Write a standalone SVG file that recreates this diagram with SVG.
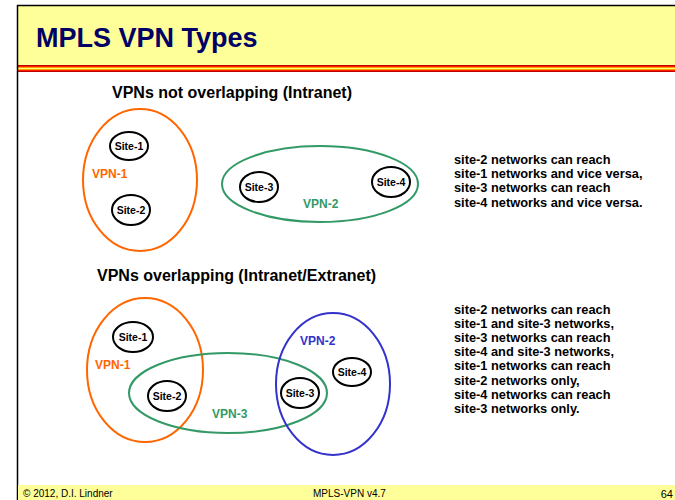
<svg xmlns="http://www.w3.org/2000/svg" width="675" height="500" viewBox="0 0 675 500">
<defs>
<linearGradient id="stripe" x1="0" y1="0" x2="0" y2="1">
<stop offset="0" stop-color="#990000"/>
<stop offset="0.18" stop-color="#FF0000"/>
<stop offset="0.35" stop-color="#FF9900"/>
<stop offset="0.5" stop-color="#FFFF66"/>
<stop offset="0.65" stop-color="#FF9900"/>
<stop offset="0.82" stop-color="#FF0000"/>
<stop offset="1" stop-color="#990000"/>
</linearGradient>
</defs>
<style>
text{font-family:"Liberation Sans",Arial,Helvetica,sans-serif;}
.title{font-size:27px;font-weight:bold;fill:#000066;}
.head{font-size:16px;font-weight:bold;fill:#000000;}
.site circle,.site ellipse{fill:#ffffff;stroke:#000000;stroke-width:2;}
.site text{font-size:10.5px;font-weight:bold;fill:#000000;text-anchor:middle;}
.vpn ellipse{fill:none;stroke-width:2;}
.vpnlabel{font-size:12px;font-weight:bold;}
.orange ellipse{stroke:#FF6600;} .orange text{fill:#FF6600;}
.green ellipse{stroke:#339966;} .green text{fill:#339966;}
.blue ellipse{stroke:#3333CC;} .blue text{fill:#3333CC;}
.desc{font-size:12.8px;font-weight:bold;fill:#000000;}
.foot{font-size:10px;fill:#000000;}
</style>
<rect x="0" y="0" width="675" height="500" fill="#ffffff"/>
<!-- header -->
<rect x="18" y="6" width="657" height="59" fill="#FFFF99"/>
<rect x="18" y="65" width="657" height="7" fill="url(#stripe)"/>
<line x1="17" y1="5.5" x2="675" y2="5.5" stroke="#000000" stroke-width="1.5"/>
<line x1="17.5" y1="5" x2="17.5" y2="500" stroke="#000000" stroke-width="1.5"/>
<text class="title" x="36" y="47">MPLS VPN Types</text>
<!-- footer -->
<rect x="18" y="485" width="657" height="15" fill="#FFFF99"/>
<text class="foot" x="23" y="497">© 2012, D.I. Lindner</text>
<text class="foot" x="313" y="497">MPLS-VPN v4.7</text>
<text class="foot" x="673" y="498" text-anchor="end" style="font-size:11px">64</text>

<text class="head" x="112" y="98">VPNs not overlapping (Intranet)</text>
<text class="head" x="97" y="281">VPNs overlapping (Intranet/Extranet)</text>

<g id="connectors"></g>

<!-- top section -->
<g id="top-vpn1" class="vpn orange">
<ellipse cx="140" cy="180" rx="57" ry="71"/>
<text class="vpnlabel" x="92" y="178">VPN-1</text>
</g>
<g id="top-vpn2" class="vpn green">
<ellipse cx="320" cy="184" rx="98" ry="38"/>
<text class="vpnlabel" x="303" y="208">VPN-2</text>
</g>
<g id="top-site1" class="site"><ellipse cx="129" cy="146" rx="19" ry="14"/><text x="129" y="150">Site-1</text></g>
<g id="top-site2" class="site"><ellipse cx="131" cy="210" rx="19" ry="15"/><text x="131" y="214">Site-2</text></g>
<g id="top-site3" class="site"><ellipse cx="259" cy="187" rx="19" ry="15"/><text x="259" y="191">Site-3</text></g>
<g id="top-site4" class="site"><ellipse cx="391" cy="182" rx="19" ry="15"/><text x="391" y="186">Site-4</text></g>

<g id="top-desc">
<text class="desc" x="454" y="164">site-2 networks can reach</text>
<text class="desc" x="454" y="178">site-1 networks and vice versa,</text>
<text class="desc" x="454" y="192.3">site-3 networks can reach</text>
<text class="desc" x="454" y="206.5">site-4 networks and vice versa.</text>
</g>

<!-- bottom section -->
<g id="bot-vpn1" class="vpn orange">
<ellipse cx="145" cy="370" rx="58" ry="72"/>
<text class="vpnlabel" x="95" y="369">VPN-1</text>
</g>
<g id="bot-vpn3" class="vpn green">
<ellipse cx="228" cy="393" rx="99" ry="40"/>
<text class="vpnlabel" x="212" y="418">VPN-3</text>
</g>
<g id="bot-vpn2" class="vpn blue">
<ellipse cx="333" cy="384" rx="57" ry="71"/>
<text class="vpnlabel" x="300" y="345">VPN-2</text>
</g>
<g id="bot-site1" class="site"><ellipse cx="133" cy="337" rx="20" ry="15"/><text x="133" y="341">Site-1</text></g>
<g id="bot-site2" class="site"><ellipse cx="167" cy="396" rx="19" ry="15"/><text x="167" y="400">Site-2</text></g>
<g id="bot-site3" class="site"><ellipse cx="300" cy="393" rx="19" ry="15"/><text x="300" y="397">Site-3</text></g>
<g id="bot-site4" class="site"><ellipse cx="352" cy="372" rx="19" ry="14"/><text x="352" y="376">Site-4</text></g>

<g id="bot-desc">
<text class="desc" x="454" y="314">site-2 networks can reach</text>
<text class="desc" x="454" y="328.1">site-1 and site-3 networks,</text>
<text class="desc" x="454" y="342.2">site-3 networks can reach</text>
<text class="desc" x="454" y="356.3">site-4 and site-3 networks,</text>
<text class="desc" x="454" y="370.4">site-1 networks can reach</text>
<text class="desc" x="454" y="384.5">site-2 networks only,</text>
<text class="desc" x="454" y="398.6">site-4 networks can reach</text>
<text class="desc" x="454" y="412.7">site-3 networks only.</text>
</g>
</svg>
